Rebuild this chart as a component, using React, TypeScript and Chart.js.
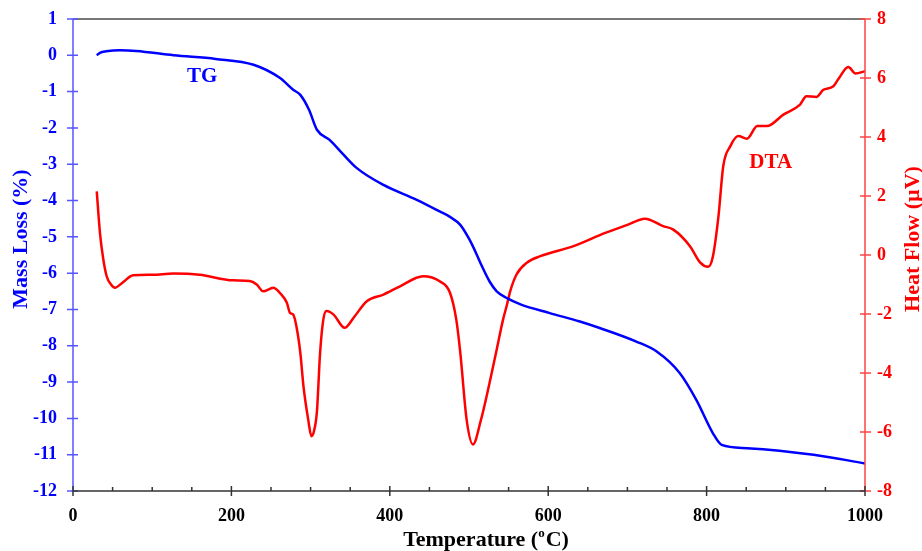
import React, { useEffect, useRef } from "react";
import { Chart, registerables } from "chart.js";

Chart.register(...registerables);

const tgTemps = [30, 34, 42, 59, 80, 127, 180, 228, 261, 278, 287, 298, 308, 324, 340, 358, 392, 434, 463, 476, 489, 500, 506, 514, 526, 535, 548, 565, 602, 640, 665, 712, 737, 766, 787, 808, 819, 851, 935, 1000];
const tgValues = [0.0, 0.07, 0.11, 0.14, 0.12, 0.0, -0.1, -0.26, -0.62, -0.95, -1.09, -1.5, -2.05, -2.33, -2.7, -3.1, -3.57, -3.98, -4.3, -4.45, -4.67, -5.05, -5.31, -5.7, -6.23, -6.5, -6.69, -6.86, -7.1, -7.33, -7.51, -7.89, -8.16, -8.75, -9.49, -10.41, -10.73, -10.82, -11.0, -11.24];

const dtaTemps = [30, 34, 38, 42.5, 48, 53, 62, 76, 100, 127, 160, 202, 223, 232, 240, 253, 261, 270, 274, 278, 282, 287, 291, 297, 301, 304, 308, 312, 316, 320, 329, 343, 355, 371, 392, 413, 442, 463, 476, 484, 489, 497, 505, 515, 526, 535, 543, 548, 552, 560, 573, 590, 632, 672, 700, 722, 745, 758, 779, 792, 802, 808, 815, 821, 830, 840, 851, 864, 876, 897, 918, 926, 939, 947, 960, 966, 979, 988, 1000];
const dtaValues = [2.16, 0.76, -0.1, -0.72, -1.0, -1.11, -0.95, -0.69, -0.67, -0.63, -0.67, -0.86, -0.88, -1.0, -1.23, -1.11, -1.28, -1.62, -1.96, -2.02, -2.41, -3.31, -4.45, -5.58, -6.14, -6.0, -5.3, -3.31, -2.2, -1.9, -2.02, -2.47, -2.1, -1.57, -1.34, -1.06, -0.72, -0.89, -1.28, -2.2, -3.31, -5.58, -6.42, -5.6, -4.33, -3.2, -2.19, -1.68, -1.23, -0.66, -0.26, -0.04, 0.3, 0.75, 1.02, 1.23, 0.98, 0.86, 0.3, -0.26, -0.4, -0.04, 1.32, 3.01, 3.69, 4.03, 3.94, 4.37, 4.37, 4.76, 5.1, 5.38, 5.36, 5.59, 5.72, 5.95, 6.37, 6.15, 6.23];

const xTicks = [0, 200, 400, 600, 800, 1000];
const leftTicks = [1, 0, -1, -2, -3, -4, -5, -6, -7, -8, -9, -10, -11, -12];
const rightTicks = [8, 6, 4, 2, 0, -2, -4, -6, -8];

const xTitle = "Temperature";
const leftTitle = "Mass Loss (%)";
const rightTitle = "Heat Flow (µV)";
const tgLabel = { text: "TG", x: 163, y: -0.58 };
const dtaLabel = { text: "DTA", x: 881, y: 3.12 };

const BLUE = "#0000ff";
const RED = "#ff0000";
const FONT = "'Liberation Serif', 'Times New Roman', serif";

const decorPlugin = {
  id: "decor",
  afterDatasetsDraw(chart: any) {
    const { ctx, chartArea } = chart;
    const { left, right, top, bottom } = chartArea;
    const xs = chart.scales.x;
    const yl = chart.scales.y;
    const yr = chart.scales.y2;
    ctx.save();
    ctx.strokeStyle = "#777777";
    ctx.lineWidth = 2;
    ctx.beginPath();
    ctx.moveTo(left, top);
    ctx.lineTo(right, top);
    ctx.stroke();
    ctx.strokeStyle = "#5555ff";
    ctx.lineWidth = 1.5;
    ctx.beginPath();
    ctx.moveTo(left, top);
    ctx.lineTo(left, bottom);
    leftTicks.forEach((v) => {
      const y = yl.getPixelForValue(v);
      ctx.moveTo(left - 6, y);
      ctx.lineTo(left + 5, y);
    });
    ctx.stroke();
    ctx.strokeStyle = "#ff4444";
    ctx.beginPath();
    ctx.moveTo(right, top);
    ctx.lineTo(right, bottom);
    rightTicks.forEach((v) => {
      const y = yr.getPixelForValue(v);
      ctx.moveTo(right - 5, y);
      ctx.lineTo(right + 6, y);
    });
    ctx.stroke();
    ctx.strokeStyle = "#333333";
    ctx.lineWidth = 1.5;
    ctx.beginPath();
    ctx.moveTo(left, bottom);
    ctx.lineTo(right, bottom);
    for (let t = 0; t <= 1000; t += 50) {
      const x = xs.getPixelForValue(t);
      if (t % 200 === 0) {
        ctx.moveTo(x, bottom - 5);
        ctx.lineTo(x, bottom + 5);
      } else {
        ctx.moveTo(x, bottom - 4);
        ctx.lineTo(x, bottom);
      }
    }
    ctx.stroke();

    ctx.font = `bold 21px ${FONT}`;
    ctx.textAlign = "center";
    ctx.textBaseline = "middle";
    ctx.fillStyle = BLUE;
    ctx.fillText(tgLabel.text, xs.getPixelForValue(tgLabel.x), yl.getPixelForValue(tgLabel.y));
    ctx.fillStyle = RED;
    ctx.fillText(dtaLabel.text, xs.getPixelForValue(dtaLabel.x), yr.getPixelForValue(dtaLabel.y));

    const midY = (top + bottom) / 2 - 16;
    ctx.font = `bold 22px ${FONT}`;
    ctx.fillStyle = BLUE;
    ctx.save();
    ctx.translate(21, midY);
    ctx.rotate(-Math.PI / 2);
    ctx.fillText(leftTitle, 0, 0);
    ctx.restore();
    ctx.fillStyle = RED;
    ctx.save();
    ctx.translate(913, midY);
    ctx.rotate(-Math.PI / 2);
    ctx.fillText(rightTitle, 0, 0);
    ctx.restore();

    ctx.fillStyle = "#000000";
    const p1 = xTitle + " (";
    const p3 = "C)";
    ctx.font = `bold 22px ${FONT}`;
    const w1 = ctx.measureText(p1).width;
    const w3 = ctx.measureText(p3).width;
    ctx.font = `bold 13px ${FONT}`;
    const w2 = ctx.measureText("o").width + 1;
    const total = w1 + w2 + w3;
    const cx = (left + right) / 2 + 17;
    const y0 = 540;
    const x0 = cx - total / 2;
    ctx.textAlign = "left";
    ctx.font = `bold 22px ${FONT}`;
    ctx.fillText(p1, x0, y0);
    ctx.font = `bold 13px ${FONT}`;
    ctx.fillText("o", x0 + w1, y0 - 6);
    ctx.font = `bold 22px ${FONT}`;
    ctx.fillText(p3, x0 + w1 + w2, y0);
    ctx.restore();
  },
};

export default function App() {
  const ref = useRef<HTMLCanvasElement | null>(null);
  useEffect(() => {
    if (!ref.current) return;
    const tgData = tgTemps.map((t, i) => ({ x: t, y: tgValues[i] }));
    const dtaData = dtaTemps.map((t, i) => ({ x: t, y: dtaValues[i] }));
    const chart = new Chart(ref.current, {
      type: "scatter",
      data: {
        datasets: [
          {
            label: "TG",
            data: tgData,
            showLine: true,
            borderColor: BLUE,
            borderWidth: 2.5,
            pointRadius: 0,
            cubicInterpolationMode: "monotone",
            yAxisID: "y",
          },
          {
            label: "DTA",
            data: dtaData,
            showLine: true,
            borderColor: RED,
            borderWidth: 2.5,
            pointRadius: 0,
            cubicInterpolationMode: "monotone",
            yAxisID: "y2",
          },
        ],
      },
      options: {
        responsive: false,
        animation: false,
        layout: { padding: { top: 19, left: 0, right: 0, bottom: 0 } },
        plugins: { legend: { display: false }, tooltip: { enabled: false } },
        scales: {
          x: {
            type: "linear",
            min: 0,
            max: 1000,
            afterBuildTicks: (s: any) => {
              s.ticks = xTicks.map((v) => ({ value: v }));
            },
            afterFit: (s: any) => {
              s.height = 60;
            },
            grid: { display: false },
            border: { display: false },
            ticks: {
              padding: 7,
              color: "#000000",
              font: { family: FONT, size: 18, weight: "bold" },
              maxRotation: 0,
              callback: (v: any) => String(v),
            },
          },
          y: {
            type: "linear",
            position: "left",
            min: -12,
            max: 1,
            afterBuildTicks: (s: any) => {
              s.ticks = leftTicks.map((v) => ({ value: v }));
            },
            afterFit: (s: any) => {
              s.width = 73;
            },
            grid: { display: false },
            border: { display: false },
            ticks: {
              padding: 8,
              color: BLUE,
              font: { family: FONT, size: 18, weight: "bold" },
              callback: (v: any) => String(v),
            },
          },
          y2: {
            type: "linear",
            position: "right",
            min: -8,
            max: 8,
            afterBuildTicks: (s: any) => {
              s.ticks = rightTicks.map((v) => ({ value: v }));
            },
            afterFit: (s: any) => {
              s.width = 57;
            },
            grid: { display: false },
            border: { display: false },
            ticks: {
              padding: 4,
              color: RED,
              font: { family: FONT, size: 18, weight: "bold" },
              callback: (v: any) => String(v),
            },
          },
        },
      },
      plugins: [decorPlugin],
    } as any);
    return () => chart.destroy();
  }, []);
  return (
    <div style={{ position: "fixed", left: 0, top: 0, width: 922, height: 551, background: "#fff" }}>
      <canvas ref={ref} width={922} height={551} style={{ display: "block" }} />
    </div>
  );
}
